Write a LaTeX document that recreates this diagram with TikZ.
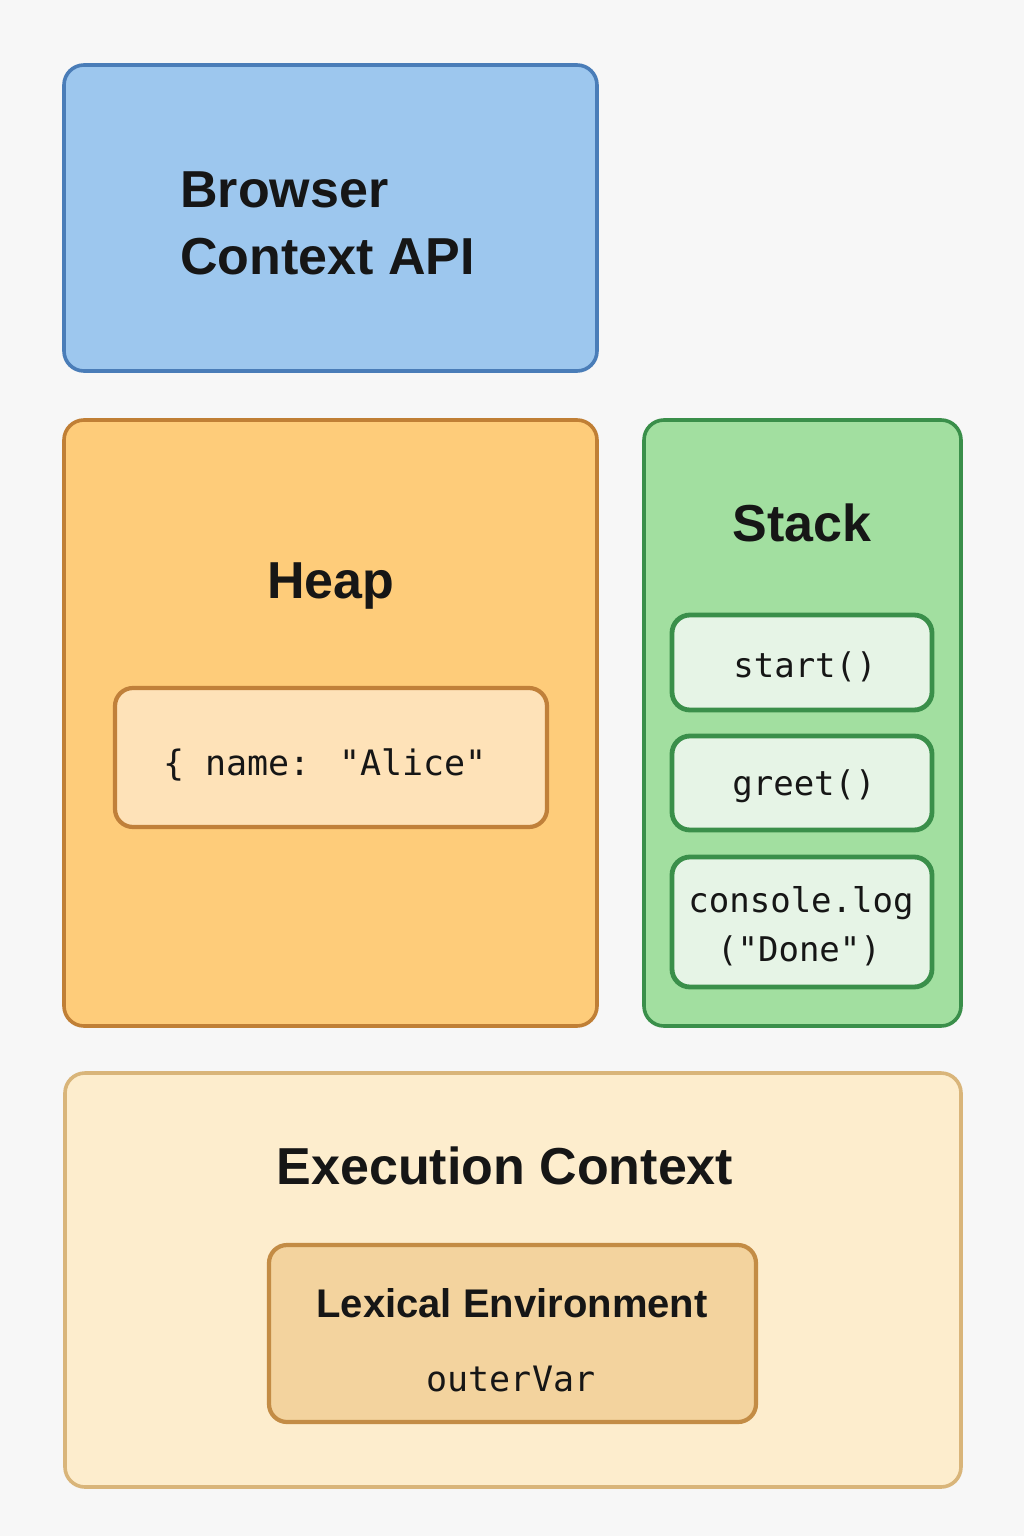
\documentclass[tikz,border=0pt]{standalone}
\usepackage{fontspec}
\setmainfont{Liberation Sans}
\newfontfamily\codefont{DejaVu Sans Mono}
\definecolor{bg}{HTML}{F7F7F7}
\definecolor{txt}{HTML}{161616}
\definecolor{bluefill}{HTML}{9DC7EE}
\definecolor{blueline}{HTML}{4A7DB8}
\definecolor{heapfill}{HTML}{FECC7A}
\definecolor{heapline}{HTML}{C07F35}
\definecolor{objfill}{HTML}{FEE2B8}
\definecolor{objline}{HTML}{C0803A}
\definecolor{stackfill}{HTML}{A2DFA0}
\definecolor{stackline}{HTML}{3A8F4A}
\definecolor{framefill}{HTML}{E6F4E6}
\definecolor{execfill}{HTML}{FDEDCD}
\definecolor{execline}{HTML}{D9B57A}
\definecolor{lexfill}{HTML}{F3D39E}
\definecolor{lexline}{HTML}{C38C45}
\tikzset{
  panel/.style={draw, rounded corners=10pt, line width=1.8pt, inner sep=0pt},
  inner box/.style={draw, rounded corners=9pt, line width=2.4pt, inner sep=0pt},
  heading/.style={font=\fontsize{26}{33.5}\selectfont\bfseries, text=txt, inner sep=0pt, anchor=base},
  subheading/.style={font=\fontsize{20}{24}\selectfont\bfseries, text=txt, inner sep=0pt, anchor=base},
  code/.style={font=\codefont\fontsize{17.5}{25}\selectfont, text=txt, inner sep=0pt, anchor=base},
}
\begin{document}
\begin{tikzpicture}[x=0.5pt, y=-0.5pt]
\fill[bg] (0,0) rectangle (1024,1536);
\useasboundingbox (0,0) rectangle (1024,1536);

% Browser Context API
\node[panel, fill=bluefill, draw=blueline, minimum width=266.5pt, minimum height=153pt] (browser) at (330.5,218) {};
\node[heading, anchor=base west, align=left] (browsertxt) at (180,274) {Browser\\Context API};

% Heap
\node[panel, fill=heapfill, draw=heapline, minimum width=266.5pt, minimum height=303pt] (heap) at (330.5,723) {};
\node[heading] (heaptxt) at (331,598) {Heap};
\node[inner box, fill=objfill, draw=objline, line width=2.1pt, minimum width=216pt, minimum height=69.5pt] (obj) at (331,757.5) {};
\node[code] (objtxt) at (325,775) {\{ name: "Alice"};

% Stack
\node[panel, fill=stackfill, draw=stackline, minimum width=158.5pt, minimum height=303pt] (stack) at (802.5,723) {};
\node[heading] (stacktxt) at (802,541) {Stack};
\node[inner box, fill=framefill, draw=stackline, minimum width=130pt, minimum height=47.5pt] (start) at (802,662.5) {};
\node[code, font=\codefont\fontsize{17}{25}\selectfont] (starttxt) at (805,677) {start()};
\node[inner box, fill=framefill, draw=stackline, minimum width=130pt, minimum height=47pt] (greet) at (802,783) {};
\node[code, font=\codefont\fontsize{17}{25}\selectfont] (greettxt) at (804,795) {greet()};
\node[inner box, fill=framefill, draw=stackline, minimum width=130pt, minimum height=65pt] (console) at (802,922) {};
\node[code, font=\codefont\fontsize{17}{25}\selectfont] (consoletxt1) at (801,912) {console.log};
\node[code, font=\codefont\fontsize{17}{25}\selectfont] (consoletxt2) at (799,961) {("Done")};

% Execution Context
\node[panel, fill=execfill, draw=execline, minimum width=448pt, minimum height=207pt] (exec) at (513,1280) {};
\node[heading] (exectxt) at (505,1184) {Execution Context};
\node[inner box, fill=lexfill, draw=lexline, line width=2.1pt, minimum width=243.5pt, minimum height=88.5pt] (lex) at (512.5,1333.5) {};
\node[subheading] (lextxt) at (512,1317) {Lexical Environment};
\node[code] (outertxt) at (511,1391) {outerVar};
\end{tikzpicture}
\end{document}
